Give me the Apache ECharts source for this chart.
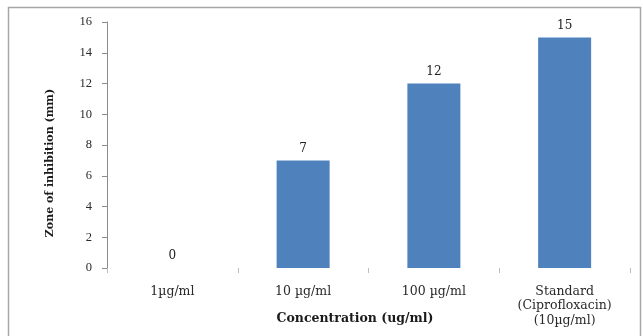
<!DOCTYPE html>
<html>
<head>
<meta charset="utf-8">
<script src="https://cdn.jsdelivr.net/npm/echarts@6/dist/echarts.min.js"></script>
<style>
  html, body { margin: 0; padding: 0; background: #fff; }
  #chart { width: 643px; height: 336px; }
</style>
</head>
<body>
<div id="chart"></div>
<script>
// Zone of inhibition by concentration
const categories = ['1µg/ml', '10 µg/ml', '100 µg/ml', 'Standard\n(Ciprofloxacin)\n(10µg/ml)'];
const zoneValues = [0, 7, 12, 15];
const yTicks = { min: 0, max: 16, interval: 2 };
const xTitle = 'Concentration (ug/ml)';
const yTitle = 'Zone of inhibition (mm)';

const wideSerif = '"DejaVu Serif", serif';
const serif = '"Liberation Serif", "Times New Roman", serif';
const chart = echarts.init(document.getElementById('chart'), null, { renderer: 'canvas' });

chart.setOption({
  animation: false,
  backgroundColor: '#fff',
  grid: { left: 107, right: 13, top: 22, bottom: 68, containLabel: false, outerBoundsMode: 'none' },
  graphic: [
    {
      type: 'rect',
      shape: { x: 8.5, y: 7.5, width: 632, height: 340 },
      style: { fill: 'none', stroke: '#a6a6a6', lineWidth: 1.5 },
      silent: true
    },
    {
      type: 'text',
      x: 355, y: 319,
      style: {
        text: xTitle, font: 'bold 12.5px ' + wideSerif, fill: '#1a1a1a',
        textAlign: 'center', textVerticalAlign: 'middle'
      },
      silent: true
    },
    {
      type: 'text',
      x: 50, y: 163,
      rotation: Math.PI / 2,
      style: {
        text: yTitle, font: 'bold 11px ' + wideSerif, fill: '#1a1a1a',
        textAlign: 'center', textVerticalAlign: 'middle'
      },
      silent: true
    }
  ],
  xAxis: {
    type: 'category',
    data: categories,
    axisLine: { show: true, lineStyle: { color: 'rgba(0,0,0,0)' } },
    axisTick: { show: true, length: 5, lineStyle: { color: '#bdbdbd' } },
    axisLabel: { fontFamily: wideSerif, fontSize: 12.5, color: '#2a2a2a', margin: 16, lineHeight: 14.5 },
    splitLine: { show: false }
  },
  yAxis: {
    type: 'value',
    min: yTicks.min,
    max: yTicks.max,
    interval: yTicks.interval,
    axisLine: { show: true, lineStyle: { color: '#8c8c8c', width: 1 } },
    axisTick: { show: true, length: 5, lineStyle: { color: '#8c8c8c' } },
    axisLabel: { fontFamily: serif, fontSize: 12.5, color: '#2a2a2a', margin: 15 },
    splitLine: { show: false }
  },
  series: [{
    type: 'bar',
    data: zoneValues,
    barWidth: 53,
    itemStyle: { color: '#4f81bd' },
    label: {
      show: true,
      position: 'top',
      distance: 6,
      fontFamily: wideSerif,
      fontSize: 12,
      color: '#222'
    }
  }]
});
</script>
</body>
</html>
